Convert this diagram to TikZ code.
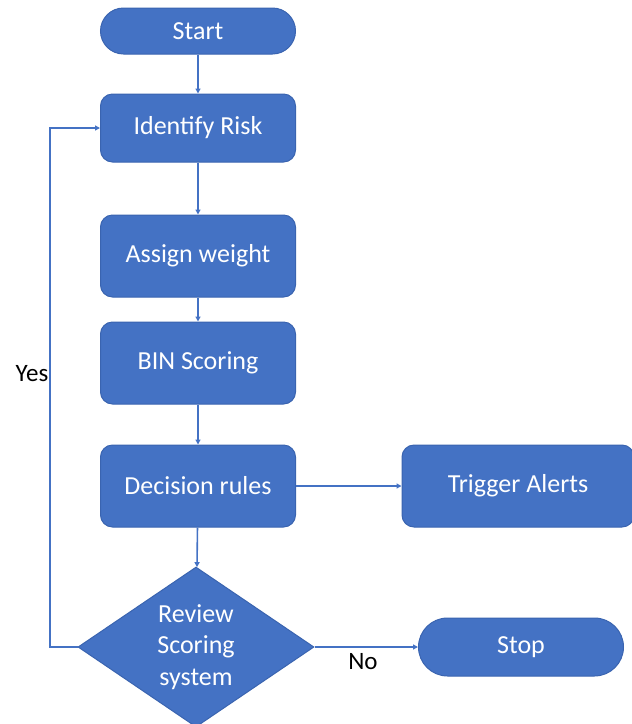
\documentclass[tikz,border=0pt]{standalone}
\usepackage{fontspec}
\setmainfont{Carlito}
\usetikzlibrary{shapes.geometric,arrows.meta}
\definecolor{boxblue}{HTML}{4472C4}
\definecolor{edgeblue}{HTML}{3A64B0}
\begin{document}
\begin{tikzpicture}[x=1pt,y=-1pt,
  box/.style={draw=edgeblue,line width=1pt,fill=boxblue,text=white,font=\fontsize{26}{30}\selectfont,
    minimum width=195pt,minimum height=82pt,rounded corners=12pt,inner sep=0pt},
  term/.style={box,minimum height=46pt,rounded corners=23pt},
  dec/.style={shape=diamond,draw=edgeblue,line width=1pt,fill=boxblue,text=white,
    font=\fontsize{26}{31.5}\selectfont,align=center,inner sep=0pt,
    minimum width=236pt,minimum height=160pt,aspect=1.475},
  conn/.style={draw=boxblue,line width=1.6pt,-{Triangle[length=5pt,width=5pt]}},
  lbl/.style={font=\fontsize{25}{28}\selectfont,text=black}]
\useasboundingbox (0,0) rectangle (632,724);
\node[term] (start) at (198,31) {Start};
\node[box,minimum height=68pt] (ident) at (198,128) {Identify Risk};
\node[box] (assign) at (198,256) {Assign weight};
\node[box] (bin) at (198,363) {BIN Scoring};
\node[box] (decide) at (198,486) {Decision rules};
\node[box,minimum width=232pt] (trigger) at (518,486) {Trigger Alerts};
\node[dec] (review) at (196,647) {Review\\Scoring\\system};
\node[term,minimum width=205pt,minimum height=58pt,rounded corners=29pt] (stop) at (521,647) {Stop};
\coordinate (loop) at (50,647);
\draw[conn] (start) -- (ident);
\draw[conn] (ident) -- (assign);
\draw[conn] (assign) -- (bin);
\draw[conn] (bin) -- (decide);
\draw[conn] (decide) -- (trigger);
\draw[conn] (decide) -- (review);
\draw[conn] (review.east) -- (stop.west);
\draw[conn] (review.west) -- (loop) |- (ident.west);
\node[lbl] (yes) at (32,374) {Yes};
\node[lbl] (no) at (363,662) {No};
\end{tikzpicture}
\end{document}
